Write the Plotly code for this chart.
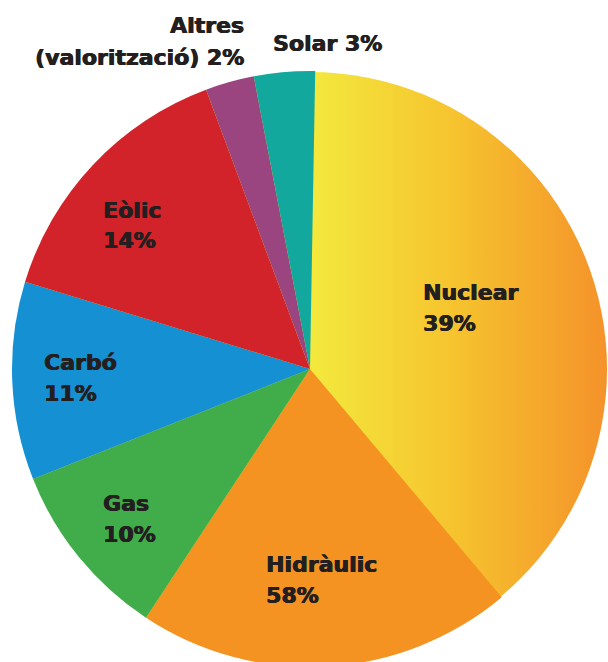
import base64
import plotly.graph_objs as go

W, H = 608, 672

sources = ["Nuclear", "Hidràulic", "Gas", "Carbó", "Eòlic", "Altres (valorització)", "Solar"]
shares = [38.6, 20.4, 9.7, 10.75, 14.6, 2.65, 3.3]
name_lines = ["Nuclear", "Hidràulic", "Gas", "Carbó", "Eòlic", "Altres", "Solar 3%"]
pct_lines = ["39%", "58%", "10%", "11%", "14%", "(valorització) 2%", ""]
colors = ["rgba(0,0,0,0)", "#f59322", "#41ad4a", "#1591d3", "#d2232b", "#9b4580", "#13a89e"]

# pie geometry in screen pixels (from top-left)
cx, cy, r = 310, 369, 298


def px(x, y):
    return x / W, (H - y) / H


# nuclear slice gets a horizontal yellow->orange gradient drawn underneath
svg = ('<svg xmlns="http://www.w3.org/2000/svg" width="600" height="600" viewBox="0 0 600 600">'
       '<defs><linearGradient id="g" x1="0" x2="1" y1="0" y2="0">'
       '<stop offset="0.5" stop-color="#f3e93d"/><stop offset="0.75" stop-color="#f6c22e"/>'
       '<stop offset="1" stop-color="#f4922a"/>'
       '</linearGradient></defs><circle cx="300" cy="300" r="299" fill="url(#g)"/></svg>')
src = "data:image/svg+xml;base64," + base64.b64encode(svg.encode()).decode()

x0, y1 = px(cx - r, cy - r)
x1, y0 = px(cx + r, cy + r)

fig = go.Figure(go.Pie(
    labels=sources, values=shares, sort=False, direction="clockwise", rotation=1,
    marker=dict(colors=colors, line=dict(width=0)),
    textinfo="none", hoverinfo="label+percent", showlegend=False,
    domain=dict(x=[x0, x1], y=[y0, y1]),
))

fig.add_layout_image(dict(source=src, xref="paper", yref="paper", x=x0, y=y1,
                          sizex=x1 - x0, sizey=y1 - y0, xanchor="left", yanchor="top",
                          sizing="stretch", layer="below"))

font = dict(family="DejaVu Sans", size=22, color="#231f20", weight="bold",
            shadow="0.6px 0 0 #231f20, -0.3px 0 0 #231f20")

# label placement (screen pixels): x, first line y-center, anchor
spots = [(421, 292, "left"), (264, 564, "left"), (101, 503, "left"), (42, 362, "left"),
         (101, 210, "left"), (246, 26, "right"), (271, 43, "left")]
for nm, pc, (lx, ly, anc) in zip(name_lines, pct_lines, spots):
    for k, txt in enumerate([nm, pc]):
        if not txt:
            continue
        ax, ay = px(lx, ly + 31 * k)
        fig.add_annotation(text=txt, x=ax, y=ay, xref="paper", yref="paper",
                           xanchor=anc, yanchor="middle", align=anc, showarrow=False,
                           font=font)

fig.update_layout(width=W, height=H, margin=dict(l=0, r=0, t=0, b=0),
                  paper_bgcolor="white", plot_bgcolor="white")

# no page margin / scrollbars so the pie can run off the bottom edge like the original
fig.write_html("out.html", config={"displayModeBar": False}, post_script=(
    "document.body.style.margin='0';"
    "document.body.style.overflow='hidden';"
    "document.documentElement.style.overflow='hidden';"))
